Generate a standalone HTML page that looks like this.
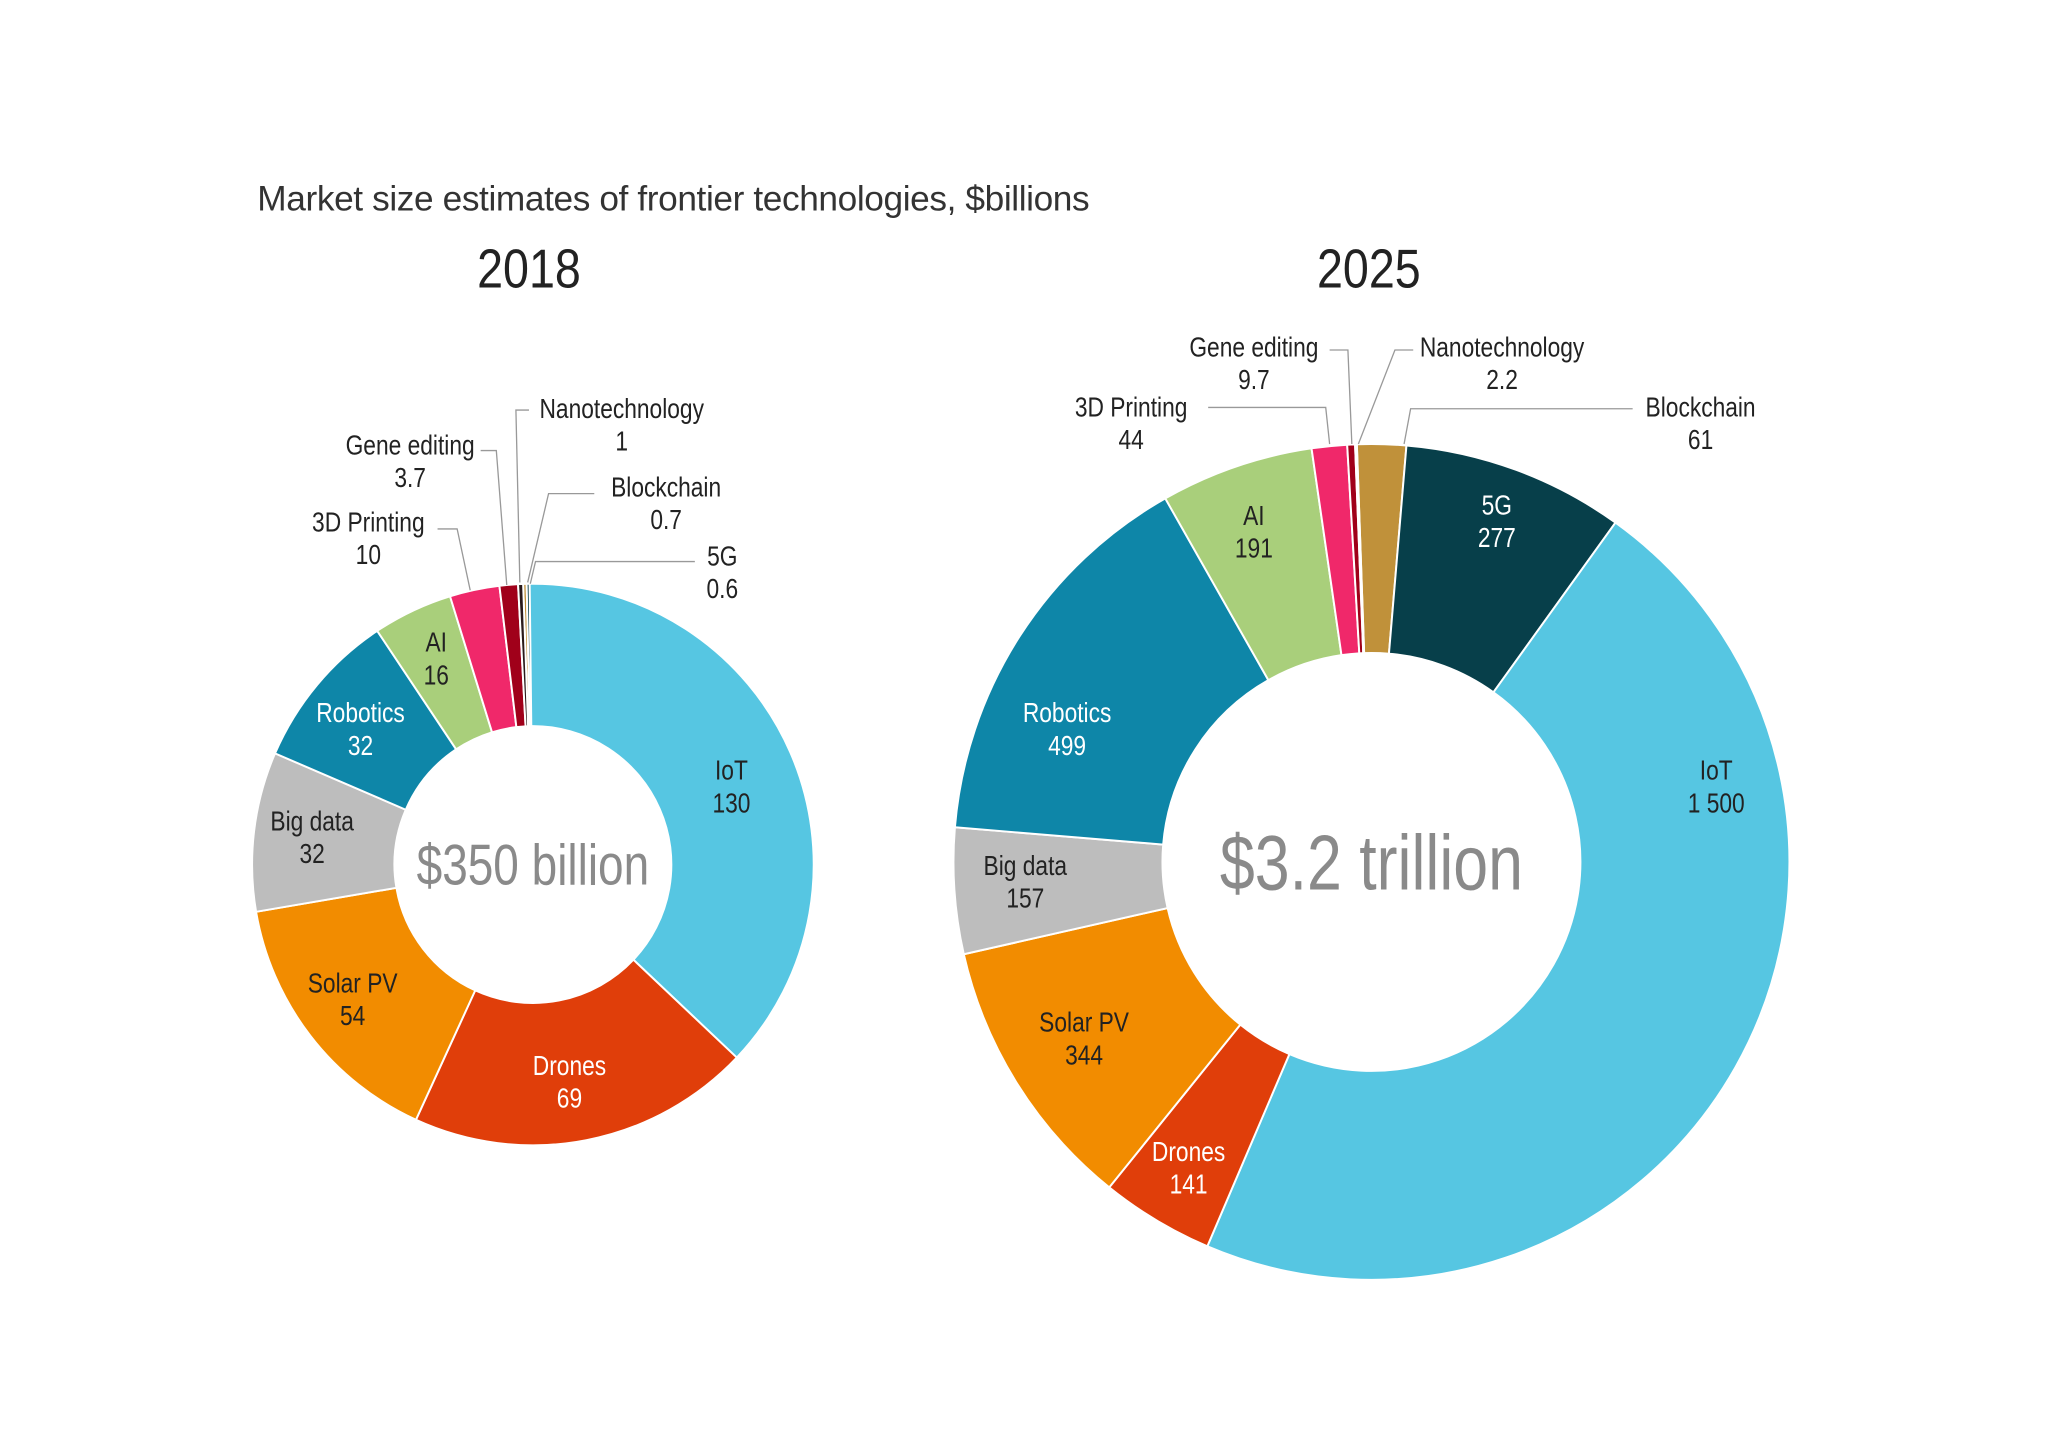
<!DOCTYPE html>
<html><head><meta charset="utf-8"><style>
html,body{margin:0;padding:0;background:#fff;width:2048px;height:1447px;overflow:hidden}
svg{display:block}
text{font-family:"Liberation Sans",sans-serif}
</style></head><body>
<svg id="chart" width="2048" height="1447" viewBox="0 0 1568 1108" preserveAspectRatio="none" xmlns="http://www.w3.org/2000/svg">
<text x="197" y="161" font-size="27" fill="#333" letter-spacing="-0.3">Market size estimates of frontier technologies, $billions</text>
<text transform="translate(405,220) scale(0.85,1)" font-size="42" text-anchor="middle" fill="#222">2018</text>
<text transform="translate(1048,220) scale(0.85,1)" font-size="42" text-anchor="middle" fill="#222">2025</text>
<g id="g2018"></g><g id="g2025"></g>
</svg>
<script>
const categories = ["Blockchain","5G","IoT","Drones","Solar PV","Big data","Robotics","AI","3D Printing","Gene editing","Nanotechnology"];
const colors = ["#c0913a","#073f4a","#56c6e2","#e03e0a","#f28c00","#bdbdbd","#0e86a8","#a9cf7b","#f0286a","#a0001a","#2a1a1a"];
const values2018 = [0.7,0.6,130,69,54,32,32,16,10,3.7,1];
const values2025 = [61,277,1500,141,344,157,499,191,44,9.7,2.2];
const labels2018 = ["0.7","0.6","130","69","54","32","32","16","10","3.7","1"];
const labels2025 = ["61","277","1 500","141","344","157","499","191","44","9.7","2.2"];
const NS="http://www.w3.org/2000/svg";
const OFFSET=-2*Math.PI/180;
function mk(tag,attrs,parent){const e=document.createElementNS(NS,tag);for(const k in attrs)e.setAttribute(k,attrs[k]);parent.appendChild(e);return e;}
function angleScale(vals){const t=vals.reduce((a,b)=>a+b,0);let c=0;return vals.map(v=>{const a0=OFFSET+c/t*2*Math.PI;c+=v;return [a0,OFFSET+c/t*2*Math.PI];});}
function pt(cx,cy,r,a){return [cx+r*Math.sin(a),cy-r*Math.cos(a)];}
const lay2018=[[510,380,"#222","455,378 420,378 404,446"],[553,433,"#222","532,430 410,430 406,447"],[560,597,"#222"],[436,823,"#fff"],[270,760,"#222"],[239,636,"#222"],[276,553,"#fff"],[334,499,"#222"],[282,407,"#222","335,405 350,405 360,452"],[314,348,"#222","368,345 380,345 388,448"],[476,320,"#222","405,314 395,314 398,446"]];
const lay2025=[[1302,319,"#222","1250,313 1080,313 1075,340"],[1146,394,"#fff"],[1314,597,"#222"],[910,889,"#fff"],[830,790,"#222"],[785,670,"#222"],[817,553,"#fff"],[960,402,"#222"],[866,319,"#222","925,312 1015,312 1018,340"],[960,273,"#222","1018,268 1032,268 1035,340"],[1150,273,"#222","1082,268 1068,268 1040,340"]];
function donut(gid,vals,labs,lay,cx,cy,R,r,center,cs,year){
  const g=document.getElementById(gid);
  const ang=angleScale(vals);
  vals.forEach((v,i)=>{
    const [a0,a1]=ang[i];const big=(a1-a0)>Math.PI?1:0;
    const p1=pt(cx,cy,R,a0),p2=pt(cx,cy,R,a1),p3=pt(cx,cy,r,a1),p4=pt(cx,cy,r,a0);
    const p=mk("path",{d:`M${p1}A${R},${R} 0 ${big} 1 ${p2}L${p3}A${r},${r} 0 ${big} 0 ${p4}Z`,fill:colors[i],stroke:"#fff","stroke-width":1.5},g);
    
    
  });
  lay.forEach((L,i)=>{
    if(L[3]){const pl=mk("polyline",{points:L[3],fill:"none",stroke:"#999","stroke-width":1},g);
      
      }
    const t=mk("text",{transform:`translate(${L[0]},${L[1]}) scale(0.83,1)`,"font-size":21,"text-anchor":"middle",fill:L[2]},g);
    
    
    t.textContent=categories[i];
    const t2=mk("text",{transform:`translate(${L[0]},${L[1]+25}) scale(0.83,1)`,"font-size":21,"text-anchor":"middle",fill:L[2]},g);
    
    
    t2.textContent=labs[i];
  });
  const c=mk("text",{transform:`translate(${cx},${cy+cs*0.35}) scale(0.8,1)`,"font-size":cs,"text-anchor":"middle",fill:"#8a8a8a"},g);
  
  
  c.textContent=center;
}
donut("g2018",values2018,labels2018,lay2018,408,662,215,106,"$350 billion",44,"2018");
donut("g2025",values2025,labels2025,lay2025,1050,660,320,160,"$3.2 trillion",60,"2025");
</script>
</body></html>
